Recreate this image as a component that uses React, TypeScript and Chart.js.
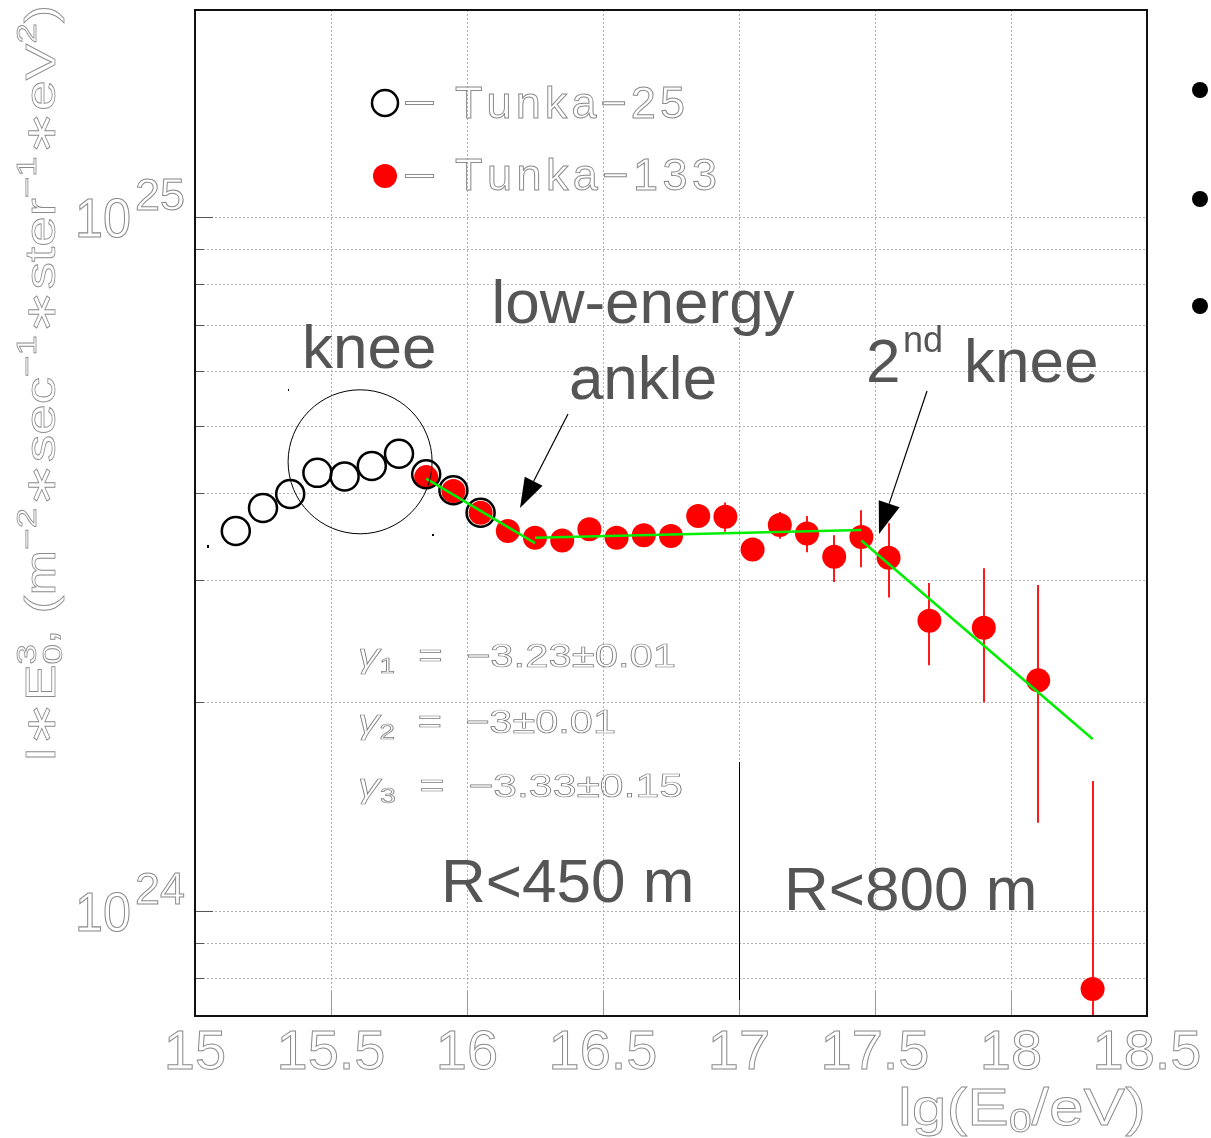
import React, { useEffect, useRef } from "react";
import { Chart, registerables } from "chart.js";

Chart.register(...registerables);

const W = 1211;
const H = 1138;

// ---- axis ticks / grid ----
const xTicks = [15, 15.5, 16, 16.5, 17, 17.5, 18, 18.5];
const xTickLabels = ["15", "15.5", "16", "16.5", "17", "17.5", "18", "18.5"];
const yGridValues = [8e23, 9e23, 1e24, 2e24, 3e24, 4e24, 5e24, 6e24, 7e24, 8e24, 9e24, 1e25];
const yMajorTicks = [1e24, 1e25];
const yMajorExponents = ["24", "25"];

// ---- Tunka-25 (open circles) ----
const t25X = [15.15, 15.25, 15.35, 15.45, 15.55, 15.65, 15.75, 15.85, 15.95, 16.05];
const t25Y = [3.53e24, 3.81e24, 3.99e24, 4.28e24, 4.23e24, 4.38e24, 4.56e24, 4.26e24, 4.04e24, 3.75e24];

// ---- Tunka-133 (red filled) ----
const t133X = [15.85, 15.95, 16.05, 16.15, 16.25, 16.35, 16.45, 16.55, 16.65, 16.75, 16.85, 16.95,
  17.05, 17.15, 17.25, 17.35, 17.45, 17.55, 17.7, 17.9, 18.1, 18.3];
const t133Y = [4.22e24, 4.03e24, 3.75e24, 3.53e24, 3.45e24, 3.42e24, 3.55e24, 3.45e24, 3.48e24, 3.47e24, 3.71e24, 3.70e24,
  3.32e24, 3.60e24, 3.50e24, 3.24e24, 3.46e24, 3.23e24, 2.62e24, 2.56e24, 2.15e24, 7.72e23];
const t133ErrHi = [null, null, null, null, null, null, null, null, null, null, null, 3.88e24,
  null, 3.76e24, 3.71e24, 3.48e24, 3.78e24, 3.62e24, 2.97e24, 3.12e24, 2.95e24, 1.54e24];
const t133ErrLo = [null, null, null, null, null, null, null, null, null, null, null, 3.52e24,
  null, 3.44e24, 3.29e24, 2.98e24, 3.13e24, 2.83e24, 2.26e24, 2.00e24, 1.34e24, 3.0e23];

// ---- power-law fits ----
const fit1X = [15.85, 16.25];
const fit1Y = [4.20e24, 3.39e24];
const fit2X = [16.25, 17.45];
const fit2Y = [3.45e24, 3.54e24];
const fit3X = [17.45, 18.3];
const fit3Y = [3.42e24, 1.77e24];

// ---- annotation anchors (data coords) ----
const kneeCircleCenter = [15.607, 4.44e24];
const separatorX = 17;

const FAM = "'Liberation Sans', Arial, Helvetica, sans-serif";
const ROOT_GRAY = "#8a8a8a";

type Seg = { t: string; size: number; dy?: number; italic?: boolean; noAdv?: boolean };

function segFont(s: Seg) {
  return `${s.italic ? "italic " : ""}${s.size}px ${FAM}`;
}

function richWidth(ctx: CanvasRenderingContext2D, segs: Seg[]) {
  let w = 0;
  for (const s of segs) {
    ctx.font = segFont(s);
    if (!s.noAdv) w += ctx.measureText(s.t).width;
  }
  return w;
}

function drawRich(
  ctx: CanvasRenderingContext2D,
  segs: Seg[],
  x: number,
  y: number,
  opts: { width?: number; align?: "left" | "center" | "right"; mode: "fill" | "stroke"; color: string; lw?: number }
) {
  const nat = richWidth(ctx, segs);
  const target = opts.width ?? nat;
  const sx = target / nat;
  let x0 = x;
  if (opts.align === "center") x0 = x - target / 2;
  if (opts.align === "right") x0 = x - target;
  ctx.save();
  ctx.translate(x0, y);
  ctx.scale(sx, 1);
  ctx.textBaseline = "alphabetic";
  ctx.textAlign = "left";
  let cx = 0;
  for (const s of segs) {
    ctx.font = segFont(s);
    if (opts.mode === "fill") {
      ctx.fillStyle = opts.color;
      ctx.fillText(s.t, cx, s.dy ?? 0);
    } else {
      ctx.strokeStyle = opts.color;
      ctx.lineWidth = (opts.lw ?? 1) / sx;
      ctx.strokeText(s.t, cx, s.dy ?? 0);
    }
    if (!s.noAdv) cx += ctx.measureText(s.t).width;
  }
  ctx.restore();
}

function drawSpaced(ctx: CanvasRenderingContext2D, text: string, x: number, y: number, target: number, size: number) {
  ctx.save();
  ctx.font = `${size}px ${FAM}`;
  ctx.textAlign = "left";
  ctx.textBaseline = "alphabetic";
  const chars = Array.from(text);
  const ws = chars.map((c) => ctx.measureText(c).width);
  const tot = ws.reduce((a, b) => a + b, 0);
  const extra = chars.length > 1 ? (target - tot) / (chars.length - 1) : 0;
  let cx = x;
  ctx.strokeStyle = ROOT_GRAY;
  ctx.lineWidth = 1;
  chars.forEach((c, i) => {
    ctx.strokeText(c, cx, y);
    cx += ws[i] + extra;
  });
  ctx.restore();
}

function arrow(ctx: CanvasRenderingContext2D, x1: number, y1: number, x2: number, y2: number, headLen: number, headHalf: number) {
  const dx = x2 - x1;
  const dy = y2 - y1;
  const L = Math.hypot(dx, dy);
  const ux = dx / L;
  const uy = dy / L;
  const bx = x2 - ux * headLen;
  const by = y2 - uy * headLen;
  ctx.save();
  ctx.strokeStyle = "#000";
  ctx.fillStyle = "#000";
  ctx.lineWidth = 1.2;
  ctx.beginPath();
  ctx.moveTo(x1, y1);
  ctx.lineTo(bx, by);
  ctx.stroke();
  ctx.beginPath();
  ctx.moveTo(x2, y2);
  ctx.lineTo(bx - uy * headHalf, by + ux * headHalf);
  ctx.lineTo(bx + uy * headHalf, by - ux * headHalf);
  ctx.closePath();
  ctx.fill();
  ctx.restore();
}

const decorPlugin = {
  id: "decor",
  beforeDatasetsDraw(chart: any) {
    const { ctx, chartArea: a, scales } = chart;
    const x = scales.x;
    const y = scales.y;
    ctx.save();
    // dotted grid
    ctx.strokeStyle = "#b0b0b0";
    ctx.lineWidth = 1;
    ctx.setLineDash([2, 2]);
    for (const v of xTicks) {
      const px = Math.round(x.getPixelForValue(v)) + 0.5;
      if (px <= a.left + 2 || px >= a.right - 2) continue;
      ctx.beginPath();
      ctx.moveTo(px, a.top);
      ctx.lineTo(px, a.bottom);
      ctx.stroke();
    }
    for (const v of yGridValues) {
      const py = Math.round(y.getPixelForValue(v)) + 0.5;
      if (py <= a.top + 2 || py >= a.bottom - 2) continue;
      ctx.beginPath();
      ctx.moveTo(a.left, py);
      ctx.lineTo(a.right, py);
      ctx.stroke();
    }
    ctx.setLineDash([]);
    // inner tick marks
    ctx.strokeStyle = "#555";
    for (const v of yGridValues) {
      const py = Math.round(y.getPixelForValue(v)) + 0.5;
      if (py <= a.top + 2 || py >= a.bottom - 2) continue;
      const len = yMajorTicks.includes(v) ? 18 : 9;
      ctx.beginPath();
      ctx.moveTo(a.left, py);
      ctx.lineTo(a.left + len, py);
      ctx.stroke();
    }
    ctx.strokeStyle = "#999";
    for (const v of xTicks) {
      const px = Math.round(x.getPixelForValue(v)) + 0.5;
      ctx.beginPath();
      ctx.moveTo(px, a.bottom);
      ctx.lineTo(px, a.bottom - 25);
      ctx.stroke();
    }
    // error bars
    ctx.beginPath();
    ctx.rect(a.left, a.top, a.right - a.left, a.bottom - a.top);
    ctx.clip();
    ctx.strokeStyle = "#ff1a1a";
    ctx.lineWidth = 2;
    t133X.forEach((xv, i) => {
      const hi = t133ErrHi[i];
      const lo = t133ErrLo[i];
      if (hi == null || lo == null) return;
      const px = Math.round(x.getPixelForValue(xv));
      ctx.beginPath();
      ctx.moveTo(px, y.getPixelForValue(hi));
      ctx.lineTo(px, y.getPixelForValue(lo));
      ctx.stroke();
    });
    ctx.restore();
  },
  afterDatasetsDraw(chart: any) {
    const { ctx, chartArea: a, scales } = chart;
    const x = scales.x;
    const y = scales.y;
    ctx.save();

    // knee circle
    ctx.strokeStyle = "#000";
    ctx.lineWidth = 1;
    ctx.beginPath();
    ctx.arc(x.getPixelForValue(kneeCircleCenter[0]), y.getPixelForValue(kneeCircleCenter[1]), 72, 0, Math.PI * 2);
    ctx.stroke();

    // separator line
    const sx = Math.round(x.getPixelForValue(separatorX)) + 0.5;
    ctx.beginPath();
    ctx.moveTo(sx, 762);
    ctx.lineTo(sx, 1000);
    ctx.stroke();

    // tiny dots
    ctx.fillStyle = "#000";
    ctx.fillRect(207, 545, 2, 3);
    ctx.fillRect(432, 534, 2, 2);
    ctx.fillRect(288, 389, 1, 2);

    // frame
    ctx.strokeStyle = "#111";
    ctx.lineWidth = 2;
    ctx.strokeRect(a.left, a.top, a.right - a.left, a.bottom - a.top);

    // arrows
    arrow(ctx, 568, 414, 520, 508, 30, 10);
    arrow(ctx, 927, 391, 879, 534, 32, 11);

    // annotation text
    ctx.fillStyle = "#555";
    ctx.textBaseline = "alphabetic";
    ctx.font = `62px ${FAM}`;
    ctx.textAlign = "left";
    ctx.fillText("knee", 302, 368);
    ctx.textAlign = "center";
    ctx.fillText("low-energy", 643, 323);
    ctx.fillText("ankle", 643, 399);
    ctx.textAlign = "left";
    ctx.fillText("2", 866, 382);
    ctx.fillText("knee", 964, 382);
    ctx.font = `36px ${FAM}`;
    ctx.fillText("nd", 903, 352);
    ctx.font = `62px ${FAM}`;
    ctx.fillText("R<450 m", 441, 902);
    ctx.fillText("R<800 m", 784, 910);

    // gamma texts
    const gam = (sub: string, rest: string): Seg[] => [
      { t: "γ", size: 34, italic: true },
      { t: sub, size: 22, dy: 6 },
      { t: rest, size: 33 },
    ];
    drawRich(ctx, gam("1", "  =  −3.23±0.01"), 358, 667, { width: 318, mode: "stroke", color: "#7a7a7a", lw: 0.9 });
    drawRich(ctx, gam("2", "  =  −3±0.01"), 358, 733, { width: 258, mode: "stroke", color: "#7a7a7a", lw: 0.9 });
    drawRich(ctx, gam("3", "  =  −3.33±0.15"), 358, 797, { width: 325, mode: "stroke", color: "#7a7a7a", lw: 0.9 });

    // legend
    ctx.strokeStyle = "#000";
    ctx.lineWidth = 2.5;
    ctx.beginPath();
    ctx.arc(385, 103, 13, 0, Math.PI * 2);
    ctx.stroke();
    ctx.fillStyle = "#ff0000";
    ctx.beginPath();
    ctx.arc(385, 176, 12, 0, Math.PI * 2);
    ctx.fill();
    ctx.strokeStyle = ROOT_GRAY;
    ctx.lineWidth = 1;
    ctx.strokeRect(405.5, 101.5, 28, 3);
    ctx.strokeRect(405.5, 174.5, 28, 3);
    drawSpaced(ctx, "Tunka−25", 455, 118, 230, 45);
    drawSpaced(ctx, "Tunka−133", 455, 190, 262, 45);

    // x tick labels
    xTicks.forEach((v, i) => {
      drawRich(ctx, [{ t: xTickLabels[i], size: 56 }], x.getPixelForValue(v), 1069, {
        align: "center",
        mode: "stroke",
        color: ROOT_GRAY,
        lw: 1,
      });
    });

    // y major tick labels 10^N
    yMajorTicks.forEach((v, i) => {
      const py = y.getPixelForValue(v);
      drawRich(ctx, [{ t: "10", size: 56 }], 75, py + 20, { width: 56, mode: "stroke", color: ROOT_GRAY, lw: 1 });
      drawRich(ctx, [{ t: yMajorExponents[i], size: 44 }], 135, py - 7, { width: 50, mode: "stroke", color: ROOT_GRAY, lw: 1 });
    });

    // x axis title
    drawRich(
      ctx,
      [
        { t: "lg(E", size: 52 },
        { t: "0", size: 34, dy: 7 },
        { t: "/eV)", size: 52 },
      ],
      1146,
      1125,
      { width: 248, align: "right", mode: "stroke", color: ROOT_GRAY, lw: 1 }
    );

    // y axis title (rotated)
    ctx.save();
    ctx.translate(55, 762);
    ctx.rotate(-Math.PI / 2);
    drawRich(
      ctx,
      [
        { t: "I∗E", size: 42 },
        { t: "0", size: 28, dy: 7, noAdv: true },
        { t: "3", size: 28, dy: -19 },
        { t: ", (m", size: 42 },
        { t: "−2", size: 28, dy: -19 },
        { t: "∗sec", size: 42 },
        { t: "−1", size: 28, dy: -19 },
        { t: "∗ster", size: 42 },
        { t: "−1", size: 28, dy: -19 },
        { t: "∗eV", size: 42 },
        { t: "2", size: 28, dy: -19 },
        { t: ")", size: 42 },
      ],
      0,
      0,
      { width: 757, mode: "stroke", color: ROOT_GRAY, lw: 1 }
    );
    ctx.restore();

    // slide bullets
    ctx.fillStyle = "#000";
    for (const by of [90, 199, 306]) {
      ctx.beginPath();
      ctx.arc(1200, by, 8, 0, Math.PI * 2);
      ctx.fill();
    }
    ctx.restore();
  },
};

export default function App() {
  const ref = useRef<HTMLCanvasElement | null>(null);
  useEffect(() => {
    if (!ref.current) return;
    const toPts = (xs: number[], ys: number[]) => xs.map((v, i) => ({ x: v, y: ys[i] }));
    const fitStyle = {
      type: "line" as const,
      showLine: true,
      pointRadius: 0,
      borderColor: "#00ee00",
      borderWidth: 2.5,
      fill: false,
    };
    const chart = new Chart(ref.current, {
      type: "scatter",
      data: {
        datasets: [
          { ...fitStyle, label: "fit1", data: toPts(fit1X, fit1Y) },
          { ...fitStyle, label: "fit2", data: toPts(fit2X, fit2Y) },
          { ...fitStyle, label: "fit3", data: toPts(fit3X, fit3Y) },
          {
            label: "Tunka-25",
            data: toPts(t25X, t25Y),
            pointRadius: 14,
            pointBorderWidth: 2.5,
            pointBorderColor: "#000",
            pointBackgroundColor: "rgba(0,0,0,0)",
            borderColor: "#000",
            backgroundColor: "rgba(0,0,0,0)",
          },
          {
            label: "Tunka-133",
            data: toPts(t133X, t133Y),
            pointRadius: 12,
            pointBorderWidth: 0,
            pointBackgroundColor: "#ff0000",
            backgroundColor: "#ff0000",
            borderColor: "#ff0000",
          },
        ] as any,
      },
      options: {
        animation: false,
        responsive: false,
        devicePixelRatio: 1,
        layout: { autoPadding: false, padding: { left: 195, top: 10, right: W - 1147, bottom: H - 1016 } },
        plugins: { legend: { display: false }, tooltip: { enabled: false } },
        scales: {
          x: { type: "linear", min: 15, max: 18.5, display: false },
          y: { type: "logarithmic", min: 7.06e23, max: 1.988e25, display: false },
        },
      },
      plugins: [decorPlugin],
    });
    return () => chart.destroy();
  }, []);
  return (
    <div style={{ position: "absolute", left: 0, top: 0, width: W, height: H, background: "#fff" }}>
      <canvas ref={ref} width={W} height={H} style={{ width: W, height: H, display: "block" }} />
    </div>
  );
}
